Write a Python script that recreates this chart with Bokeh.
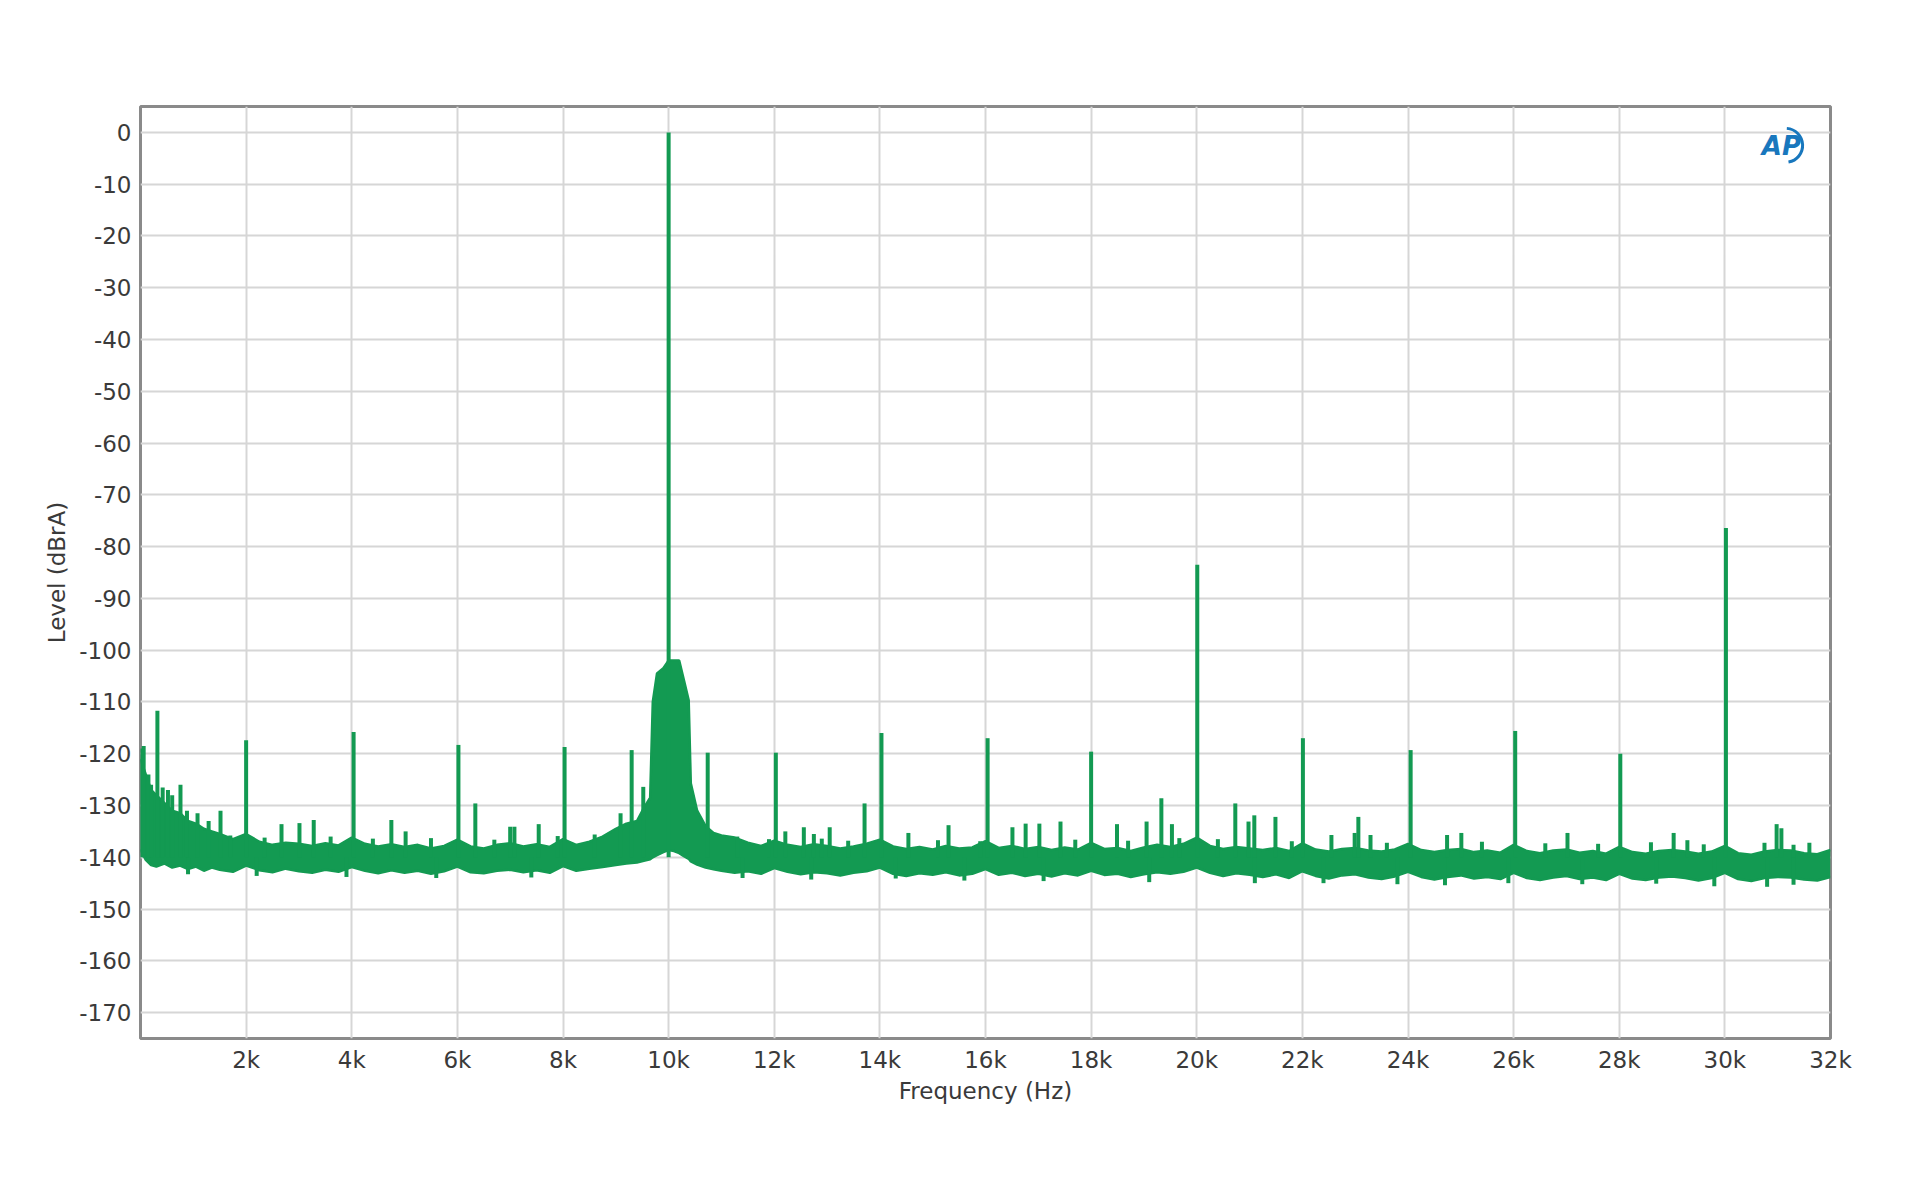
from bokeh.plotting import figure
from bokeh.models import Range1d, FixedTicker, Label
from bokeh.embed import file_html
from bokeh.resources import INLINE

# ---------------- data ----------------
FLOOR_HZ = (
    [0, 100, 200, 300, 450, 600, 750, 900, 1050, 1200, 1350, 1500]
    + list(range(1750, 8751, 250))
    + [9000, 9200, 9400, 9530, 9650, 9700, 9780, 9900, 10000, 10100, 10200, 10290, 10380, 10420, 10540, 10700, 10850]
    + list(range(11000, 32001, 250))
)

FLOOR_UPPER = [
    -121, -124, -127, -128, -129.5, -131, -131.5, -133, -133.5, -134.5, -135, -135.5,
    # 1750 .. 8750
    -136.5, -135.5, -137, -137.6, -137.2, -137.4, -137.8, -137.3, -137.7, -136.2,
    -137.4, -137.9, -137.5, -138, -137.6, -138.3, -137.8, -136.6, -137.9, -138.3,
    -137.6, -137.3, -137.9, -137.5, -138, -136.5, -137.6, -137, -136,
    # skirt around 10k (9000 .. 10850)
    -134.5, -133.5, -133, -130.5, -128.5, -110, -104.5, -103.5, -102, -102, -102, -105.8, -109.7, -125.7, -131, -134, -135.3,
    # 11000 .. 32000
    -135.8, -136.2, -137.2, -137.8, -136.8, -137.6, -138, -137.5, -137.8, -138.3,
    -137.9, -137.4, -136.6, -137.9, -138.4, -138, -138.5, -137.8, -138.3, -138.1,
    -136.9, -138.2, -137.8, -138.4, -138, -138.6, -138.1, -138.5, -137.2, -138.4,
    -138.2, -138.8, -138.1, -137.6, -138, -137.4, -136.2, -137.8, -138.4, -138,
    -138.3, -138.6, -138.2, -138.8, -137.3, -138.5, -138.9, -138.4, -138.2, -138.7,
    -138.9, -138.5, -137.4, -138.6, -139, -138.6, -138.4, -139, -138.7, -139.1,
    -137.6, -138.8, -139.2, -138.7, -138.5, -139.1, -138.8, -139.3, -138, -139,
    -139.3, -138.8, -138.6, -138.9, -139.3, -138.9, -137.8, -139.2, -139.5, -138.9,
    -138.6, -138.7, -139.2, -139.4, -138.6,
]

FLOOR_LOWER = [
    -138.5, -140.5, -141.5, -141.8, -141.2, -142, -141.6, -142.3, -141.8, -142.6, -142, -142.4,
    # 1750 .. 8750
    -142.8, -141.6, -142.5, -142.9, -142.2, -142.7, -143, -142.4, -142.8, -141.9,
    -142.6, -143.1, -142.5, -143, -142.6, -143.2, -142.7, -141.8, -142.9, -143.1,
    -142.6, -142.4, -142.9, -142.5, -143, -141.7, -142.6, -142.2, -141.9,
    # skirt around 10k (9000 .. 10850)
    -141.5, -141.2, -141, -140.7, -140.4, -140, -139.6, -139, -138.6, -138.8, -139.2, -139.8, -140.3, -140.8, -141.4, -142, -142.3,
    # 11000 .. 32000
    -142.6, -143, -142.7, -143.2, -142.1, -142.8, -143.3, -142.9, -143.1, -143.5,
    -143, -142.7, -142, -143.2, -143.6, -143.1, -143.4, -142.9, -143.5, -143.2,
    -142.3, -143.4, -143, -143.6, -143.2, -143.7, -143.1, -143.5, -142.6, -143.4,
    -143.2, -143.8, -143.3, -142.9, -143.2, -142.8, -142, -143, -143.6, -143.1,
    -143.4, -143.8, -143.3, -144, -142.7, -143.6, -144.1, -143.5, -143.3, -143.9,
    -144.2, -143.7, -142.8, -143.8, -144.3, -143.8, -143.5, -144.1, -143.8, -144.2,
    -143, -144, -144.4, -143.9, -143.6, -144.2, -143.9, -144.4, -143.2, -144.1,
    -144.4, -143.9, -143.7, -144, -144.5, -144, -143, -144.2, -144.6, -144,
    -143.8, -143.9, -144.3, -144.5, -143.8,
]

# spectral lines (harmonics, spurs)
PEAK_HZ = [
    20, 60, 150, 200, 320, 420, 520, 600, 757, 880, 1080, 1290, 1515,
    2000, 2670, 3010, 3280, 4035, 4750, 5020, 6020, 6340, 7000, 7080, 7540, 8030,
    9090, 9300, 9520, 10000, 10740, 12030, 12210, 12560, 12750, 13050, 13710, 14030,
    14540, 15300, 16040, 16510, 16760, 17020, 17420, 18000, 18490, 19050, 19330,
    19530, 19670, 20010, 20730, 20980, 21090, 21490, 22010, 22550, 22990, 23060,
    23290, 24050, 24740, 25010, 26030, 27020, 28020, 29030, 29290, 30020, 30750,
    30980, 31070, 31300,
]
PEAK_DB = [
    -119, -118.5, -124, -126, -111.7, -126.5, -127, -128, -126, -131, -131.5, -133, -131,
    -117.4, -133.6, -133.4, -132.8, -115.8, -132.8, -135, -118.3, -129.6, -134.1, -134.1, -133.6, -118.7,
    -131.5, -119.3, -126.4, 0, -119.8, -119.8, -135, -134.2, -135.5, -134.2, -129.6, -116,
    -135.3, -133.8, -117, -134.2, -133.5, -133.5, -133.1, -119.6, -133.6, -133.1, -128.6,
    -133.6, -136.3, -83.5, -129.6, -133.1, -131.9, -132.2, -117, -135.7, -135.3, -132.2,
    -135.7, -119.3, -135.7, -135.3, -115.6, -135.3, -120, -135.3, -136.7, -76.4, -137.2,
    -133.6, -134.4, -137.6,
]
FLOOR_DB = -140

# small blips of the noise trace (up and down)
BLIP_HZ = [1700, 2350, 3600, 4400, 5500, 6700, 7900, 8600, 11300, 11900, 12900, 13400,
           15100, 15900, 17700, 18700, 20400, 21800, 23600, 25400, 26600, 27600, 28600, 29600,
           31600]
BLIP_DB = [-135.8, -136.2, -136, -136.4, -136.3, -136.6, -135.9, -135.6, -136, -136.5, -136.4, -136.8,
           -136.7, -136.9, -136.6, -136.8, -136.5, -136.9, -137.2, -137, -137.3, -137.4, -137.1, -137.5,
           -137.2]
DIP_HZ = [900, 2200, 3900, 5600, 7400, 9900, 11400, 12700, 14300, 15600, 17100, 19100, 21100,
          22400, 23800, 24700, 25900, 27300, 28700, 29800, 30800, 31300]
DIP_DB = [-143.3, -143.6, -143.8, -144, -143.9, -140, -144, -144.3, -144.1, -144.5, -144.6, -144.8, -145,
          -145, -145.2, -145.4, -145, -145.2, -145.1, -145.6, -145.7, -145.3]

Y_TICKS = list(range(-170, 1, 10))
Y_TICK_LABELS = [str(t) for t in Y_TICKS]
X_TICKS = list(range(2000, 32001, 2000))
X_TICK_LABELS = [f"{t // 1000}k" for t in X_TICKS]

GREEN = "#139a52"
TXT = "#3a3a3a"
FONT = "DejaVu Sans"

# ---------------- figure ----------------
p = figure(
    width=1912, height=1181,
    x_range=Range1d(0, 32000), y_range=Range1d(-175, 5),
    output_backend="svg", toolbar_location=None,
    min_border_left=140, min_border_right=82, min_border_top=106, min_border_bottom=143,
)
p.background_fill_color = "white"
p.border_fill_color = "white"
p.outline_line_color = "#8a8a8a"
p.outline_line_width = 3

# grid
p.xgrid.ticker = FixedTicker(ticks=X_TICKS)
p.ygrid.ticker = FixedTicker(ticks=Y_TICKS)
for g in (p.xgrid, p.ygrid):
    g.grid_line_color = "#d6d6d6"
    g.grid_line_width = 2

# axes
p.xaxis.ticker = FixedTicker(ticks=X_TICKS)
p.xaxis.major_label_overrides = {t: l for t, l in zip(X_TICKS, X_TICK_LABELS)}
p.yaxis.ticker = FixedTicker(ticks=Y_TICKS)
p.yaxis.major_label_overrides = {t: l for t, l in zip(Y_TICKS, Y_TICK_LABELS)}
p.xaxis.axis_label = "Frequency (Hz)"
p.yaxis.axis_label = "Level (dBrA)"
for ax in (p.xaxis, p.yaxis):
    ax.axis_line_color = None
    ax.major_tick_line_color = None
    ax.minor_tick_line_color = None
    ax.major_tick_out = 0
    ax.major_tick_in = 0
    ax.major_label_text_font = FONT
    ax.major_label_text_font_size = "23px"
    ax.major_label_text_color = TXT
    ax.axis_label_text_font = FONT
    ax.axis_label_text_font_size = "23px"
    ax.axis_label_text_font_style = "normal"
    ax.axis_label_text_color = TXT
p.xaxis.major_label_standoff = 8
p.yaxis.major_label_standoff = 9
p.xaxis.axis_label_standoff = 2
p.yaxis.axis_label_standoff = 6

# noise floor band
p.varea(x=FLOOR_HZ, y1=FLOOR_LOWER, y2=FLOOR_UPPER, fill_color=GREEN)
p.line(x=FLOOR_HZ, y=FLOOR_UPPER, line_color=GREEN, line_width=2.5)
p.line(x=FLOOR_HZ, y=FLOOR_LOWER, line_color=GREEN, line_width=2.5)

# noise blips and dips
p.segment(x0=BLIP_HZ, y0=[FLOOR_DB] * len(BLIP_HZ), x1=BLIP_HZ, y1=BLIP_DB,
          line_color=GREEN, line_width=4)
p.segment(x0=DIP_HZ, y0=[FLOOR_DB] * len(DIP_HZ), x1=DIP_HZ, y1=DIP_DB,
          line_color=GREEN, line_width=4)

# spectral lines
p.segment(x0=PEAK_HZ, y0=[FLOOR_DB] * len(PEAK_HZ), x1=PEAK_HZ, y1=PEAK_DB,
          line_color=GREEN, line_width=4)

# AP logo
p.add_layout(Label(x=30700, y=-5.5, text="AP", text_font=FONT, text_font_size="26px",
                   text_font_style="bold italic", text_color="#1877bd"))
p.arc(x=[31150], y=[-2.5], radius=17, radius_units="screen",
      start_angle=-1.4, end_angle=1.5, line_color="#1877bd", line_width=3)

open("out.html", "w").write(file_html(p, INLINE))
